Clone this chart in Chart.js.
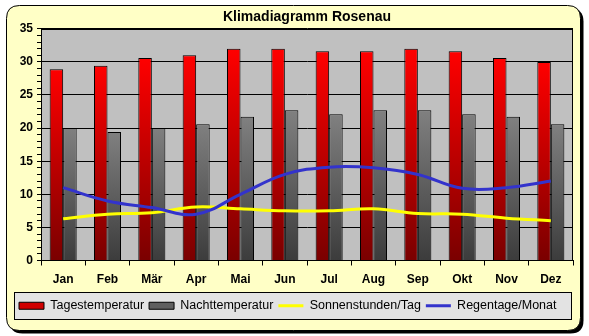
<!DOCTYPE html>
<html>
<head>
<meta charset="utf-8">
<script src="https://cdn.jsdelivr.net/npm/chart.js@4/dist/chart.umd.min.js"></script>
<style>
  html, body { margin: 0; padding: 0; background: #fff; }
  canvas { display: block; }
</style>
</head>
<body>
<canvas id="klimaChart" width="589" height="336"></canvas>
<script>
var months = ['Jan', 'Feb', 'Mär', 'Apr', 'Mai', 'Jun', 'Jul', 'Aug', 'Sep', 'Okt', 'Nov', 'Dez'];
var dayTemps = [28.9, 29.4, 30.6, 31.0, 32.0, 32.0, 31.6, 31.6, 32.0, 31.6, 30.6, 30.0];
var nightTemps = [20.0, 19.4, 20.0, 20.6, 21.7, 22.7, 22.1, 22.7, 22.7, 22.1, 21.7, 20.6];
var sunHours = [6.3, 7.0, 7.2, 8.1, 7.8, 7.5, 7.5, 7.8, 7.1, 7.0, 6.4, 6.0];
var rainDays = [11.0, 9.0, 8.0, 7.0, 10.0, 13.0, 14.1, 14.0, 13.0, 10.9, 11.0, 12.0];

var FONT = '"Liberation Sans", Arial, sans-serif';

function barGradient(topColor, bottomColor) {
    return function (context) {
        var chart = context.chart;
        var y = chart.scales && chart.scales.y;
        if (!chart.chartArea || !y || !context.parsed) return topColor;
        var y0 = y.getPixelForValue(context.parsed.y);
        var y1 = y.getPixelForValue(0);
        if (!isFinite(y0) || !isFinite(y1) || y0 === y1) return topColor;
        var g = chart.ctx.createLinearGradient(0, y0, 0, y1);
        g.addColorStop(0, topColor);
        g.addColorStop(1, bottomColor);
        return g;
    };
}

function roundRect(c, x, y, w, h, r) {
    c.beginPath();
    c.moveTo(x + r, y);
    c.lineTo(x + w - r, y);
    c.quadraticCurveTo(x + w, y, x + w, y + r);
    c.lineTo(x + w, y + h - r);
    c.quadraticCurveTo(x + w, y + h, x + w - r, y + h);
    c.lineTo(x + r, y + h);
    c.quadraticCurveTo(x, y + h, x, y + h - r);
    c.lineTo(x, y + r);
    c.quadraticCurveTo(x, y, x + r, y);
    c.closePath();
}

var framePlugin = {
    id: 'frame',
    beforeDraw: function (chart) {
        var c = chart.ctx, a = chart.chartArea;
        var w = chart.width, h = chart.height;
        c.save();
        c.fillStyle = '#ffffff';
        c.fillRect(0, 0, w, h);
        roundRect(c, 9.5, 8.5, w - 15, h - 11, 13);
        c.fillStyle = '#000';
        c.fill();
        roundRect(c, 6.5, 5.5, w - 15, h - 11, 13);
        c.fillStyle = '#FFFFC6';
        c.fill();
        c.lineWidth = 1;
        c.strokeStyle = '#000';
        c.stroke();
        // plot area
        c.fillStyle = '#C0C0C0';
        c.fillRect(a.left, a.top, a.width, a.height);
        // legend box
        var boxes = chart.legend && chart.legend.legendHitBoxes;
        if (boxes && boxes.length) {
            var first = boxes[0], last = boxes[boxes.length - 1];
            var lx = Math.round(first.left) - 4.5;
            var rx = Math.max(Math.round(last.left + last.width) + 2.5, Math.round(a.right) - 1.5);
            var ty = Math.round(first.top) - 7.5;
            var by = Math.round(first.top + first.height) + 7.5;
            c.fillStyle = '#E3E3E3';
            c.fillRect(lx, ty, rx - lx, by - ty);
            c.strokeRect(lx, ty, rx - lx, by - ty);
        }
        c.restore();
    },
    beforeDatasetsDraw: function (chart) {
        var c = chart.ctx, a = chart.chartArea;
        c.save();
        c.strokeStyle = '#000';
        c.lineWidth = 1;
        c.strokeRect(Math.round(a.left) + 0.5, Math.round(a.top) + 0.5, Math.round(a.width) - 1, Math.round(a.height) - 1);
        c.restore();
    }
};

var legendSpec = [
    { fill: '#D00000', stroke: '#000', width: 1, style: 'rect' },
    { fill: '#606060', stroke: '#000', width: 1, style: 'rect' },
    { fill: '#FFFF00', stroke: '#FFFF00', width: 3, style: 'line' },
    { fill: '#3333CC', stroke: '#3333CC', width: 3, style: 'line' }
];

var ctx = document.getElementById('klimaChart').getContext('2d');
var chart = new Chart(ctx, {
    type: 'bar',
    data: {
        labels: months,
        datasets: [
            {
                label: 'Tagestemperatur',
                data: dayTemps,
                backgroundColor: barGradient('#FF0000', '#7A0000'),
                borderColor: '#000',
                borderWidth: 1,
                categoryPercentage: 0.61,
                barPercentage: 1,
                order: 2
            },
            {
                label: 'Nachttemperatur',
                data: nightTemps,
                backgroundColor: barGradient('#808080', '#3C3C3C'),
                borderColor: '#000',
                borderWidth: 1,
                categoryPercentage: 0.61,
                barPercentage: 1,
                order: 2
            },
            {
                type: 'line',
                label: 'Sonnenstunden/Tag',
                data: sunHours,
                borderColor: '#FFFF00',
                backgroundColor: '#FFFF00',
                borderWidth: 3,
                pointRadius: 0,
                tension: 0.4,
                order: 1
            },
            {
                type: 'line',
                label: 'Regentage/Monat',
                data: rainDays,
                borderColor: '#3333CC',
                backgroundColor: '#3333CC',
                borderWidth: 3,
                pointRadius: 0,
                tension: 0.4,
                order: 0
            }
        ]
    },
    options: {
        responsive: false,
        animation: false,
        layout: { padding: { left: 14, right: 16, top: 1, bottom: 14 } },
        plugins: {
            tooltip: { enabled: false },
            title: {
                display: true,
                text: 'Klimadiagramm Rosenau',
                color: '#000',
                fullSize: false,
                font: { family: FONT, size: 14, weight: 'bold' },
                padding: { top: 8, bottom: 3 }
            },
            legend: {
                display: true,
                position: 'bottom',
                align: 'start',
                labels: {
                    color: '#000',
                    font: { family: FONT, size: 12.5 },
                    usePointStyle: true,
                    pointStyleWidth: 25,
                    boxHeight: 7,
                    padding: 5,
                    generateLabels: function (chart) {
                        return chart.data.datasets.map(function (ds, i) {
                            var s = legendSpec[i];
                            return {
                                text: ds.label,
                                fillStyle: s.fill,
                                strokeStyle: s.stroke,
                                lineWidth: s.width,
                                pointStyle: s.style,
                                fontColor: '#000',
                                hidden: false,
                                datasetIndex: i
                            };
                        });
                    }
                }
            }
        },
        scales: {
            x: {
                offset: true,
                grid: { offset: true, drawOnChartArea: false, drawTicks: true, tickLength: 5, tickColor: '#000', color: '#000' },
                border: { display: true, color: '#000' },
                ticks: { color: '#000', padding: 7, font: { family: FONT, size: 12, weight: 'bold' } },
                afterFit: function (scale) { scale.height = 34; }
            },
            y: {
                min: 0,
                max: 35,
                grid: {
                    color: function (c) { return c.tick && c.tick.value % 5 === 0 ? '#000' : 'rgba(0,0,0,0)'; },
                    tickColor: '#000',
                    tickLength: 4,
                    lineWidth: 1
                },
                border: { display: true, color: '#000' },
                ticks: {
                    stepSize: 1,
                    autoSkip: false,
                    maxTicksLimit: 40,
                    color: '#000',
                    padding: 4,
                    font: { family: FONT, size: 12, weight: 'bold' },
                    callback: function (v) { return v % 5 === 0 ? String(v) : ''; }
                },
                afterFit: function (scale) { scale.width = 27; }
            }
        }
    },
    plugins: [framePlugin]
});
</script>
</body>
</html>
